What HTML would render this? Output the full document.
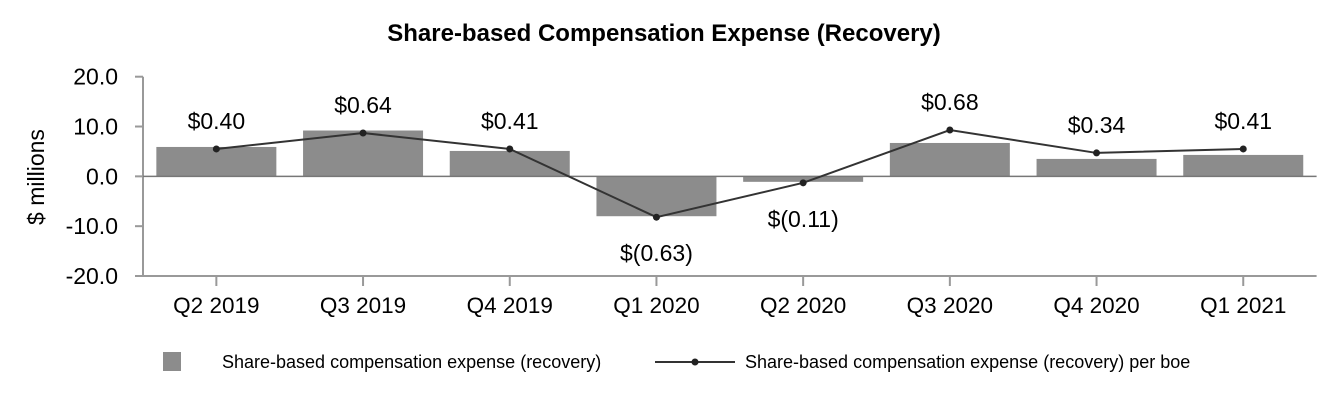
<!DOCTYPE html>
<html><head><meta charset="utf-8"><style>
body{margin:0;background:#fff;font-family:"Liberation Sans",Arial,sans-serif;}
svg text{font-family:"Liberation Sans",Arial,sans-serif;}
</style></head><body>
<svg id="chart" width="1332" height="400" xmlns="http://www.w3.org/2000/svg">
<text x="664" y="41" text-anchor="middle" font-size="24" font-weight="bold" fill="#000">Share-based Compensation Expense (Recovery)</text>
<text transform="translate(44,177) rotate(-90)" text-anchor="middle" font-size="23" fill="#000">$ millions</text>
<g id="plot"></g>
<g>
<rect x="163" y="352" width="18" height="19" fill="#8c8c8c"/>
<text x="222" y="368" font-size="18" fill="#000">Share-based compensation expense (recovery)</text>
<line x1="655" y1="362" x2="735" y2="362" stroke="#333" stroke-width="2"/>
<circle cx="695" cy="362" r="3.5" fill="#222"/>
<text x="745" y="368" font-size="18" fill="#000">Share-based compensation expense (recovery) per boe</text>
</g>
</svg>
<script>
const categories=["Q2 2019","Q3 2019","Q4 2019","Q1 2020","Q2 2020","Q3 2020","Q4 2020","Q1 2021"];
const barValues=[5.9,9.2,5.1,-8.0,-1.1,6.7,3.5,4.3];
const lineValues=[5.5,8.7,5.5,-8.2,-1.3,9.3,4.7,5.5];
const lineLabels=["$0.40","$0.64","$0.41","$(0.63)","$(0.11)","$0.68","$0.34","$0.41"];
const yTicks=[20,10,0,-10,-20];
const yTickLabels=["20.0","10.0","0.0","-10.0","-20.0"];

const NS="http://www.w3.org/2000/svg";
const g=document.getElementById('plot');
const x0=143,step=146.7,yTop=76.7,yBot=276,yMax=20,yMin=-20;
function xScale(i){return x0+step*(i+0.5);}
function yScale(v){return yTop+(yMax-v)/(yMax-yMin)*(yBot-yTop);}
function mk(tag,attrs){const e=document.createElementNS(NS,tag);for(const k in attrs)e.setAttribute(k,attrs[k]);g.appendChild(e);return e;}

barValues.forEach((v,i)=>{
  const y0=yScale(0),y1=yScale(v);
  const r=mk('rect',{x:xScale(i)-60,y:Math.min(y0,y1),width:120,height:Math.abs(y1-y0),fill:'#8c8c8c'});
  
  
});
let a=mk('line',{x1:x0,y1:yTop,x2:x0,y2:yBot,stroke:'#999','stroke-width':2});


a=mk('line',{x1:x0,y1:yBot,x2:x0+step*categories.length,y2:yBot,stroke:'#999','stroke-width':2});


a=mk('line',{x1:x0,y1:yScale(0),x2:x0+step*categories.length,y2:yScale(0),stroke:'#777','stroke-width':1.5});


yTicks.forEach((t,i)=>{
  const y=yScale(t);
  const l=mk('line',{x1:x0-8,y1:y,x2:x0,y2:y,stroke:'#999','stroke-width':2});
  
  
  const tx=mk('text',{x:x0-25,y:y+8,'text-anchor':'end','font-size':23,fill:'#000'});
  tx.textContent=yTickLabels[i];
  
  
});
categories.forEach((c,i)=>{
  const x=xScale(i);
  const l=mk('line',{x1:x,y1:yBot,x2:x,y2:yBot+10,stroke:'#999','stroke-width':2});
  
  
  const tx=mk('text',{x:x,y:yBot+37,'text-anchor':'middle','font-size':22.5,fill:'#000'});
  tx.textContent=c;
  
  
});
const pts=lineValues.map((v,i)=>xScale(i)+','+yScale(v)).join(' ');
const pl=mk('polyline',{points:pts,fill:'none',stroke:'#333','stroke-width':2});


lineValues.forEach((v,i)=>{
  const c=mk('circle',{cx:xScale(i),cy:yScale(v),r:3.5,fill:'#222'});
  
  
  const ly=v>=0?yScale(v)-20:yScale(v)+44;
  const t=mk('text',{x:xScale(i),y:ly,'text-anchor':'middle','font-size':23,fill:'#000'});
  t.textContent=lineLabels[i];
  
  
});
</script>
</body></html>
